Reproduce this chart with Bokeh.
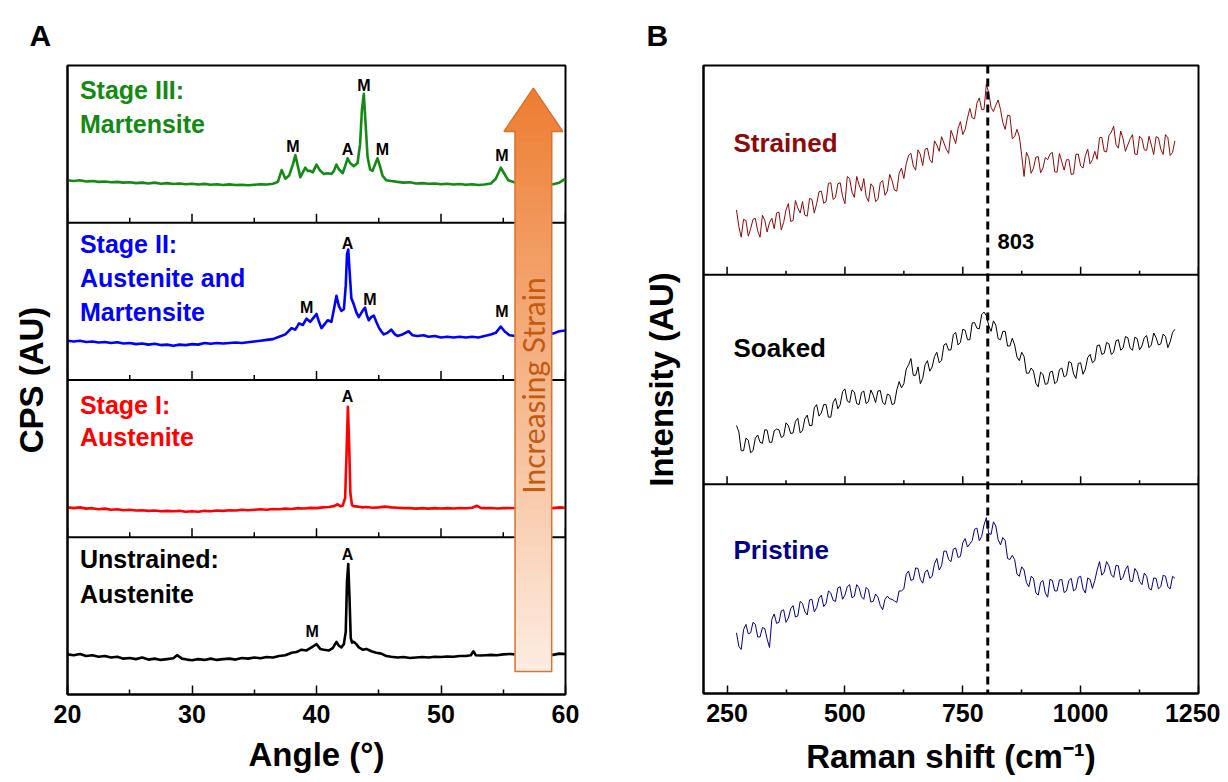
from bokeh.plotting import figure
from bokeh.models import Range1d, FixedTicker, Span, Label
from bokeh.layouts import row
from bokeh.embed import file_html
from bokeh.resources import INLINE

FONT = "Liberation Sans"

# ---------------- Panel A : XRD ----------------
XRD_TICKS = [20, 30, 40, 50, 60]
XRD_MINOR = [25, 35, 45, 55]

UNSTRAINED_ANGLE = [
    20.0, 20.5, 21.0, 21.5, 22.0, 22.5, 23.0, 23.5, 24.0, 24.5,
    25.0, 25.5, 26.0, 26.5, 27.0, 27.5, 28.0, 28.5, 28.8, 29.2,
    29.6, 30.0, 30.5, 31.0, 31.5, 32.0, 32.5, 33.0, 33.5, 34.0,
    34.5, 35.0, 35.5, 36.0, 36.5, 37.0, 37.5, 38.0, 38.4, 38.8,
    39.2, 39.6, 40.0, 40.3, 40.6, 41.0, 41.3, 41.6, 41.8, 42.0,
    42.2, 42.35, 42.45, 42.55, 42.65, 42.75, 42.85, 43.0, 43.2, 43.4,
    43.7, 44.0, 44.4, 44.8, 45.2, 45.6, 46.0, 46.5, 47.0, 47.5,
    48.0, 48.5, 49.0, 49.5, 50.0, 50.5, 51.0, 51.5, 52.0, 52.4,
    52.6, 52.8, 53.2, 53.6, 54.0, 54.5, 55.0, 55.5, 56.0, 56.5,
    57.0, 57.5, 58.0, 58.5, 59.0, 59.5, 60.0]
UNSTRAINED_CPS = [
    .255, .25, .258, .245, .25, .24, .245, .235, .24, .228,
    .232, .225, .235, .222, .228, .22, .225, .23, .25, .228,
    .222, .218, .225, .22, .228, .22, .225, .228, .222, .232,
    .228, .235, .23, .238, .235, .245, .25, .265, .27, .285,
    .28, .30, .32, .29, .285, .28, .295, .335, .31, .30,
    .32, .40, .72, .83, .62, .36, .33, .335, .32, .30,
    .285, .29, .275, .265, .26, .245, .24, .235, .238, .232,
    .235, .238, .235, .24, .238, .242, .24, .245, .245, .25,
    .275, .25, .248, .25, .252, .25, .255, .258, .255, .258,
    .255, .26, .255, .258, .252, .26, .258]

STAGE1_ANGLE = [
    20.0, 20.5, 21.0, 21.5, 22.0, 22.5, 23.0, 23.5, 24.0, 24.5,
    25.0, 25.5, 26.0, 26.5, 27.0, 27.5, 28.0, 28.5, 29.0, 29.5,
    30.0, 30.5, 31.0, 31.5, 32.0, 32.5, 33.0, 33.5, 34.0, 34.5,
    35.0, 35.5, 36.0, 36.5, 37.0, 37.5, 38.0, 38.5, 39.0, 39.5,
    40.0, 40.5, 41.0, 41.4, 41.7, 41.9, 42.1, 42.3, 42.42, 42.52,
    42.62, 42.72, 42.85, 43.0, 43.3, 43.7, 44.0, 44.5, 45.0, 45.5,
    46.0, 46.5, 47.0, 47.5, 48.0, 48.5, 49.0, 49.5, 50.0, 50.5,
    51.0, 51.5, 52.0, 52.5, 52.9, 53.2, 53.5, 54.0, 54.5, 55.0,
    55.5, 56.0, 56.5, 57.0, 57.5, 58.0, 58.5, 59.0, 59.5, 60.0]
STAGE1_CPS = [
    .19, .185, .19, .182, .185, .178, .182, .175, .178, .172,
    .175, .17, .172, .168, .17, .165, .168, .165, .168, .162,
    .165, .162, .168, .165, .17, .168, .172, .17, .175, .172,
    .175, .178, .175, .18, .178, .182, .18, .185, .183, .187,
    .185, .19, .192, .198, .21, .198, .20, .25, .55, .83,
    .60, .28, .205, .198, .195, .19, .192, .188, .19, .195,
    .19, .188, .185, .185, .182, .185, .182, .185, .183, .185,
    .183, .186, .184, .188, .20, .186, .185, .186, .183, .185,
    .186, .184, .186, .185, .186, .184, .186, .185, .19, .188]

STAGE2_ANGLE = [
    20.0, 20.5, 21.0, 21.5, 22.0, 22.5, 23.0, 23.5, 24.0, 24.5,
    25.0, 25.5, 26.0, 26.5, 27.0, 27.5, 28.0, 28.5, 29.0, 29.5,
    30.0, 30.5, 31.0, 31.5, 32.0, 32.5, 33.0, 33.5, 34.0, 34.5,
    35.0, 35.5, 36.0, 36.5, 37.0, 37.5, 38.0, 38.3, 38.6, 38.9,
    39.2, 39.5, 39.8, 40.0, 40.2, 40.4, 40.7, 40.9, 41.2, 41.4,
    41.6, 41.8, 42.0, 42.2, 42.35, 42.45, 42.55, 42.65, 42.8, 43.0,
    43.2, 43.4, 43.7, 43.9, 44.05, 44.2, 44.4, 44.6, 44.8, 45.0,
    45.2, 45.4, 45.7, 46.0, 46.3, 46.5, 46.9, 47.4, 47.7, 48.1,
    48.6, 49.0, 49.5, 50.0, 50.5, 51.0, 51.5, 52.0, 52.5, 53.0,
    53.5, 54.0, 54.4, 54.8, 55.1, 55.5, 56.0, 57.0, 58.0, 58.5,
    59.0, 59.5, 60.0]
STAGE2_CPS = [
    .25, .245, .25, .242, .245, .238, .242, .235, .24, .232,
    .235, .228, .232, .225, .23, .222, .225, .218, .225, .222,
    .228, .225, .235, .23, .235, .232, .235, .238, .235, .24,
    .245, .25, .255, .26, .275, .29, .33, .32, .36, .35,
    .39, .37, .40, .42, .37, .33, .36, .38, .37, .45,
    .535, .47, .44, .45, .60, .80, .83, .70, .52, .48,
    .43, .40, .44, .46, .41, .38, .40, .41, .37, .335,
    .31, .29, .30, .32, .29, .28, .29, .31, .285, .28,
    .285, .275, .28, .27, .275, .27, .275, .27, .275, .27,
    .28, .29, .30, .34, .31, .285, .28, .29, .29, .30,
    .295, .31, .315]

STAGE3_ANGLE = [
    20.0, 20.5, 21.0, 21.5, 22.0, 22.5, 23.0, 23.5, 24.0, 24.5,
    25.0, 25.5, 26.0, 26.5, 27.0, 27.5, 28.0, 28.5, 29.0, 29.5,
    30.0, 30.5, 31.0, 31.5, 32.0, 32.5, 33.0, 33.5, 34.0, 34.5,
    35.0, 35.5, 36.0, 36.5, 36.9, 37.2, 37.5, 37.8, 38.1, 38.3,
    38.5, 38.7, 38.9, 39.1, 39.3, 39.5, 39.7, 40.0, 40.3, 40.6,
    40.9, 41.2, 41.4, 41.6, 41.8, 42.1, 42.3, 42.5, 42.7, 43.0,
    43.3, 43.5, 43.65, 43.8, 43.95, 44.1, 44.3, 44.5, 44.7, 44.9,
    45.1, 45.3, 45.6, 46.0, 46.5, 47.0, 47.5, 48.0, 48.5, 49.0,
    49.5, 50.0, 50.5, 51.0, 51.5, 52.0, 52.5, 53.0, 53.5, 54.0,
    54.4, 54.8, 55.1, 55.4, 56.0, 57.0, 58.0, 59.0, 59.5, 60.0]
STAGE3_CPS = [
    .27, .265, .27, .262, .265, .26, .262, .258, .26, .255,
    .258, .252, .255, .25, .255, .248, .252, .246, .25, .245,
    .248, .243, .247, .242, .245, .24, .244, .24, .242, .238,
    .242, .245, .243, .248, .26, .335, .28, .30, .37, .43,
    .36, .29, .32, .35, .33, .33, .32, .37, .33, .31,
    .315, .31, .33, .37, .34, .315, .36, .41, .38, .36,
    .38, .50, .72, .82, .62, .42, .34, .33, .37, .41,
    .36, .30, .27, .265, .26, .255, .258, .25, .252, .248,
    .25, .245, .248, .243, .246, .242, .245, .24, .243, .25,
    .28, .35, .31, .27, .255, .25, .245, .245, .255, .28]

# bottom to top
XRD_ANGLES = [UNSTRAINED_ANGLE, STAGE1_ANGLE, STAGE2_ANGLE, STAGE3_ANGLE]
XRD_CPS = [UNSTRAINED_CPS, STAGE1_CPS, STAGE2_CPS, STAGE3_CPS]
STAGE_TEXT = [["Unstrained:", "Austenite"],
              ["Stage I:", "Austenite"],
              ["Stage II:", "Austenite and", "Martensite"],
              ["Stage III:", "Martensite"]]
STAGE_TEXT_Y = [[0.86, 0.637], [0.84, 0.635], [0.862, 0.648, 0.434], [0.847, 0.63]]
XRD_COLORS = ["#000000", "#ff0000", "#0000ff", "#138a13"]

PEAK_STAGE = [0, 0, 1, 2, 2, 2, 2, 3, 3, 3, 3, 3]
PEAK_ANGLE = [42.5, 39.65, 42.5, 42.5, 39.2, 44.3, 54.9, 43.8, 38.1, 42.5, 45.3, 54.9]
PEAK_LEVEL = [0.89, 0.40, 0.893, 0.87, 0.461, 0.514, 0.436, 0.873, 0.484, 0.463, 0.463, 0.427]
PEAK_PHASE = ["A", "M", "A", "A", "M", "M", "M", "M", "M", "A", "M", "M"]

# ---------------- Panel B : Raman ----------------
RAMAN_TICKS = [250, 500, 750, 1000, 1250]
RAMAN_MINOR = [375, 625, 875, 1125]
RAMAN_PEAK = 803

RAMAN_SHIFT = [
    270, 275, 280, 285, 290, 295, 300, 305, 310, 315, 320, 325, 330, 335, 340, 345, 350, 355, 360, 365,
    370, 375, 380, 385, 390, 395, 400, 405, 410, 415, 420, 425, 430, 435, 440, 445, 450, 455, 460, 465,
    470, 475, 480, 485, 490, 495, 500, 505, 510, 515, 520, 525, 530, 535, 540, 545, 550, 555, 560, 565,
    570, 575, 580, 585, 590, 595, 600, 605, 610, 615, 620, 625, 630, 635, 640, 645, 650, 655, 660, 665,
    670, 675, 680, 685, 690, 695, 700, 705, 710, 715, 720, 725, 730, 735, 740, 745, 750, 755, 760, 765,
    770, 775, 780, 785, 790, 795, 800, 805, 810, 815, 820, 825, 830, 835, 840, 845, 850, 855, 860, 865,
    870, 875, 880, 885, 890, 895, 900, 905, 910, 915, 920, 925, 930, 935, 940, 945, 950, 955, 960, 965,
    970, 975, 980, 985, 990, 995, 1000, 1005, 1010, 1015, 1020, 1025, 1030, 1035, 1040, 1045, 1050, 1055, 1060, 1065,
    1070, 1075, 1080, 1085, 1090, 1095, 1100, 1105, 1110, 1115, 1120, 1125, 1130, 1135, 1140, 1145, 1150, 1155, 1160, 1165,
    1170, 1175, 1180, 1185, 1190, 1195, 1200]
STRAINED = [
    .31, .23, .18, .265, .26, .185, .22, .265, .27, .21, .18, .285, .26, .205, .25, .27, .22, .295, .30, .215,
    .25, .31, .34, .255, .26, .355, .32, .295, .35, .285, .28, .365, .36, .295, .34, .397, .40, .342, .35, .437,
    .44, .36, .37, .435, .44, .375, .34, .47, .46, .395, .37, .47, .43, .40, .46, .375, .35, .435, .42, .35,
    .36, .44, .45, .38, .40, .48, .45, .405, .40, .485, .51, .46, .53, .57, .58, .52, .50, .597, .575, .522,
    .60, .605, .55, .535, .64, .62, .59, .66, .63, .60, .58, .69, .66, .627, .70, .732, .67, .695, .75, .795,
    .75, .745, .82, .845, .79, .79, .91, .87, .80, .78, .81, .835, .79, .727, .695, .762, .76, .65, .66, .695,
    .66, .57, .47, .585, .56, .485, .51, .562, .565, .487, .51, .56, .55, .577, .585, .492, .49, .58, .54, .50,
    .55, .55, .48, .482, .575, .577, .52, .51, .57, .60, .53, .55, .59, .552, .655, .657, .59, .587, .665, .682,
    .71, .622, .605, .687, .65, .59, .62, .65, .67, .577, .575, .662, .65, .597, .595, .662, .62, .575, .66, .655,
    .60, .575, .67, .655, .57, .585, .64]
SOAKED = [
    .28, .25, .16, .16, .22, .21, .15, .16, .22, .235, .20, .195, .26, .258, .20, .20, .255, .263, .26, .223,
    .23, .293, .28, .242, .245, .30, .315, .245, .255, .312, .33, .28, .28, .365, .38, .325, .34, .38, .38, .32,
    .32, .39, .41, .36, .38, .442, .455, .397, .39, .45, .44, .385, .38, .437, .445, .385, .395, .45, .425, .39,
    .445, .447, .39, .38, .43, .425, .38, .385, .45, .49, .46, .48, .55, .57, .60, .52, .52, .56, .48, .505,
    .57, .59, .54, .56, .61, .63, .58, .592, .665, .672, .64, .642, .715, .725, .665, .677, .74, .735, .69, .69,
    .77, .772, .745, .742, .81, .822, .805, .757, .73, .78, .76, .695, .69, .73, .73, .66, .66, .697, .665, .607,
    .59, .63, .61, .53, .53, .555, .54, .482, .465, .535, .525, .477, .48, .535, .54, .48, .49, .547, .555, .512,
    .52, .585, .58, .527, .505, .577, .58, .525, .55, .605, .62, .58, .59, .662, .665, .62, .625, .677, .67, .62,
    .63, .685, .69, .64, .65, .705, .70, .65, .64, .702, .695, .642, .66, .70, .71, .652, .665, .722, .70, .665,
    .67, .717, .705, .652, .68, .725, .74]
PRISTINE = [
    .29, .225, .21, .305, .33, .285, .29, .34, .33, .27, .27, .315, .31, .26, .22, .355, .38, .335, .34, .395,
    .40, .34, .36, .405, .42, .365, .37, .44, .43, .392, .375, .447, .45, .39, .41, .455, .47, .415, .43, .49,
    .48, .445, .44, .505, .51, .45, .47, .51, .52, .457, .465, .52, .505, .462, .45, .507, .495, .437, .44, .475,
    .46, .42, .40, .45, .465, .452, .45, .442, .435, .49, .49, .50, .57, .585, .54, .545, .60, .597, .545, .527,
    .58, .59, .55, .56, .62, .645, .59, .61, .68, .68, .64, .63, .69, .695, .65, .655, .72, .74, .70, .715,
    .73, .785, .79, .73, .75, .805, .84, .765, .76, .82, .80, .735, .71, .745, .73, .645, .64, .66, .64, .57,
    .56, .605, .59, .53, .51, .56, .55, .48, .47, .53, .54, .48, .46, .545, .54, .49, .49, .542, .545, .482,
    .49, .54, .55, .49, .50, .555, .56, .50, .48, .552, .545, .502, .54, .59, .63, .565, .58, .63, .61, .567,
    .555, .612, .61, .542, .555, .592, .61, .537, .535, .597, .58, .535, .52, .575, .56, .502, .495, .552, .55, .50,
    .51, .565, .56, .51, .50, .56, .55]

RAMAN_SERIES = [PRISTINE, SOAKED, STRAINED]  # bottom to top
RAMAN_NAMES = ["Pristine", "Soaked", "Strained"]
RAMAN_NAME_Y = [0.684, 0.652, 0.63]
RAMAN_COLORS = ["#00008b", "#000000", "#8b0a0a"]


def base_figure(xr, yr, left, right, top, fw, fh, letter, letter_offset):
    p = figure(frame_width=fw, frame_height=fh, x_range=xr, y_range=yr,
               min_border_left=left, min_border_right=right,
               min_border_top=top, min_border_bottom=88,
               output_backend="svg", toolbar_location=None,
               background_fill_color="white", border_fill_color="white",
               outline_line_color="black", outline_line_width=2, title=letter)
    p.title.align = "left"
    p.title.offset = letter_offset
    p.title.standoff = 28
    p.title.text_font = FONT
    p.title.text_font_size = "30px"
    p.title.text_font_style = "bold"
    p.title.text_color = "black"
    p.xgrid.visible = False
    p.ygrid.visible = False
    return p


def style_axes(p, ticks, minor, tin, tmin, xlabel, xstand, ylabel, ystand):
    ax = p.xaxis[0]
    ax.ticker = FixedTicker(ticks=ticks, minor_ticks=minor)
    ax.major_tick_in = tin
    ax.major_tick_out = 0
    ax.minor_tick_in = tmin
    ax.minor_tick_out = 0
    ax.major_tick_line_width = 1.5
    ax.minor_tick_line_width = 1.5
    ax.axis_line_width = 2
    ax.major_label_text_font = FONT
    ax.major_label_text_font_size = "25px"
    ax.major_label_text_font_style = "bold"
    ax.major_label_text_color = "black"
    ax.major_label_standoff = 10
    ax.axis_label = xlabel
    ax.axis_label_text_font = FONT
    ax.axis_label_text_font_size = "33px"
    ax.axis_label_text_font_style = "bold"
    ax.axis_label_text_color = "black"
    ax.axis_label_standoff = xstand
    ay = p.yaxis[0]
    ay.ticker = FixedTicker(ticks=[])
    ay.major_tick_line_color = None
    ay.minor_tick_line_color = None
    ay.major_label_text_font_size = "0px"
    ay.major_label_standoff = 0
    ay.axis_line_width = 2
    ay.axis_label = ylabel
    ay.axis_label_text_font = FONT
    ay.axis_label_text_font_size = "33px"
    ay.axis_label_text_font_style = "bold"
    ay.axis_label_text_color = "black"
    ay.axis_label_standoff = ystand


def band_separators(p, n, ticks, minor, tin, tmin, pxu):
    for b in range(1, n):
        p.add_layout(Span(location=b, dimension="width", line_color="black",
                          line_width=2, level="underlay"))
        p.segment(x0=ticks, y0=[b] * len(ticks), x1=ticks,
                  y1=[b + tin / pxu] * len(ticks), line_color="black", line_width=1.5)
        p.segment(x0=minor, y0=[b] * len(minor), x1=minor,
                  y1=[b + tmin / pxu] * len(minor), line_color="black", line_width=1.5)


# ---------- Panel A ----------
pA = base_figure(Range1d(20, 60), Range1d(0, 4), 67, 40, 64, 498, 629, "A", -38)
style_axes(pA, XRD_TICKS, XRD_MINOR, 9, 5, "Angle (°)", 10, "CPS (AU)", 18)
band_separators(pA, 4, XRD_TICKS, XRD_MINOR, 9, 5, 629 / 4)

for i, (xs, ys) in enumerate(zip(XRD_ANGLES, XRD_CPS)):
    pA.line(xs, [i + v for v in ys], line_color=XRD_COLORS[i], line_width=2.6,
            line_join="round")

# gradient arrow "Increasing Strain"
AX, BODY_HW, HEAD_HW = 57.42, 1.47, 2.36
TIP_Y, HEAD_Y, BOT_Y = 3.856, 3.58, 0.146
C_TOP, C_BOT = (237, 125, 49), (253, 237, 226)


def grad(y):
    t = (TIP_Y - y) / (TIP_Y - BOT_Y)
    c = [round(a + (b - a) * t) for a, b in zip(C_TOP, C_BOT)]
    return "#%02x%02x%02x" % tuple(c)


nb = 60
bl, br, bb, bt, bc = [], [], [], [], []
for k in range(nb):
    y0 = BOT_Y + (HEAD_Y - BOT_Y) * k / nb
    y1 = BOT_Y + (HEAD_Y - BOT_Y) * (k + 1) / nb
    bl.append(AX - BODY_HW); br.append(AX + BODY_HW)
    bb.append(y0); bt.append(y1); bc.append(grad((y0 + y1) / 2))
pA.quad(left=bl, right=br, bottom=bb, top=bt, fill_color=bc, line_color=bc, line_width=1)
nh = 14
hx, hy, hc = [], [], []
for k in range(nh):
    y0 = HEAD_Y + (TIP_Y - HEAD_Y) * k / nh
    y1 = HEAD_Y + (TIP_Y - HEAD_Y) * (k + 1) / nh
    h0 = HEAD_HW * (TIP_Y - y0) / (TIP_Y - HEAD_Y)
    h1 = HEAD_HW * (TIP_Y - y1) / (TIP_Y - HEAD_Y)
    hx.append([AX - h0, AX + h0, AX + h1, AX - h1])
    hy.append([y0, y0, y1, y1])
    hc.append(grad((y0 + y1) / 2))
pA.patches(hx, hy, fill_color=hc, line_color=hc, line_width=1)
pA.patch([AX - BODY_HW, AX + BODY_HW, AX + BODY_HW, AX + HEAD_HW, AX, AX - HEAD_HW, AX - BODY_HW, AX - BODY_HW],
         [BOT_Y, BOT_Y, HEAD_Y, HEAD_Y, TIP_Y, HEAD_Y, HEAD_Y, BOT_Y],
         fill_color=None, line_color="#d9742f", line_width=1.5)
pA.add_layout(Label(x=AX, y=1.965, text="Increasing Strain", angle=1.5708,
                    text_font="Lato", text_font_size="30px", text_color="#c55a11",
                    text_align="center", text_baseline="middle"))

for i, lines in enumerate(STAGE_TEXT):
    for txt, yy in zip(lines, STAGE_TEXT_Y[i]):
        pA.add_layout(Label(x=21.0, y=i + yy, text=txt, text_font=FONT,
                            text_font_size="25px", text_font_style="bold",
                            text_color=XRD_COLORS[i], text_align="left",
                            text_baseline="middle"))

for s, a, lv, ph in zip(PEAK_STAGE, PEAK_ANGLE, PEAK_LEVEL, PEAK_PHASE):
    pA.add_layout(Label(x=a, y=s + lv, text=ph, text_font=FONT, text_font_size="16px",
                        text_font_style="bold", text_color="black",
                        text_align="center", text_baseline="middle"))

# ---------- Panel B ----------
pB = base_figure(Range1d(200, 1250), Range1d(0, 3), 98, 22, 65, 495, 628, "B", -57)
style_axes(pB, RAMAN_TICKS, RAMAN_MINOR, 8, 4, "Raman shift (cm⁻¹)", 13, "Intensity (AU)", 24)
band_separators(pB, 3, RAMAN_TICKS, RAMAN_MINOR, 8, 4, 628 / 3)

for i, ys in enumerate(RAMAN_SERIES):
    pB.line(RAMAN_SHIFT, [i + v for v in ys], line_color=RAMAN_COLORS[i], line_width=1)
    pB.add_layout(Label(x=263.6, y=i + RAMAN_NAME_Y[i], text=RAMAN_NAMES[i], text_font=FONT,
                        text_font_size="26px", text_font_style="bold",
                        text_color=RAMAN_COLORS[i], text_align="left",
                        text_baseline="middle"))

pB.add_layout(Span(location=RAMAN_PEAK, dimension="height", line_color="black",
                   line_width=3, line_dash="8 5"))
pB.add_layout(Label(x=823.7, y=2.159, text=str(RAMAN_PEAK), text_font=FONT,
                    text_font_size="22px", text_font_style="bold", text_color="black",
                    text_align="left", text_baseline="middle"))

layout = row(pA, pB)
open("out.html", "w").write(file_html(layout, INLINE))
